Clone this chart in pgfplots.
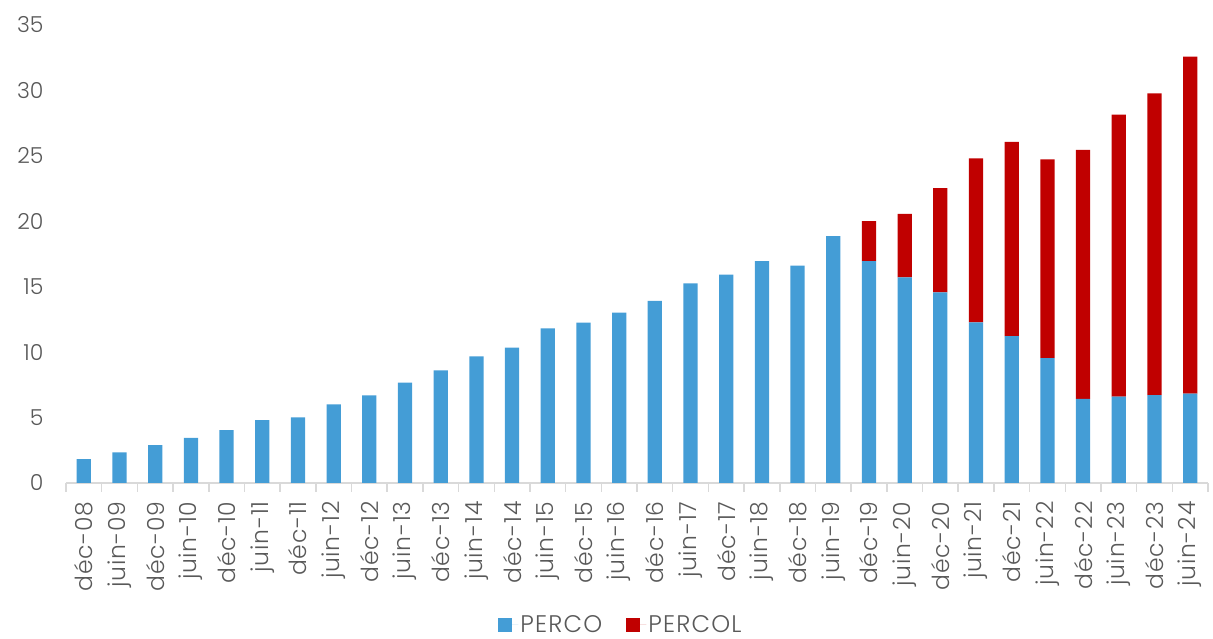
\documentclass[border=0pt]{standalone}
\usepackage{pgfplots}
\pgfplotsset{compat=1.18}
\usepackage{fontspec}
\setmainfont{Poppins}[UprightFont=* Light]
\definecolor{perco}{HTML}{449DD6}
\definecolor{percol}{HTML}{C00000}
\definecolor{txt}{HTML}{595959}
\definecolor{axl}{HTML}{D9D9D9}
\begin{document}
\begin{tikzpicture}[x=1pt,y=1pt]
\useasboundingbox (-66,-156) rectangle (1147,483);
\begin{axis}[
  at={(0,0)}, anchor=south west,
  scale only axis, width=1142pt, height=458pt,
  xmin=-0.5, xmax=31.5, ymin=0, ymax=35,
  ybar stacked, bar width=14.3pt,
  axis x line*=bottom, axis y line*=left,
  x axis line style={draw=axl, line width=1.5pt, -},
  y axis line style={draw=none},
  ytick={0,5,...,35},
  xtick={0,...,31},
  xticklabels={déc-08,juin-09,déc-09,juin-10,déc-10,juin-11,déc-11,juin-12,déc-12,juin-13,déc-13,juin-14,déc-14,juin-15,déc-15,juin-16,déc-16,juin-17,déc-17,juin-18,déc-18,juin-19,déc-19,juin-20,déc-20,juin-21,déc-21,juin-22,déc-22,juin-23,déc-23,juin-24},
  minor xtick={-0.5,0.5,...,31.5},
  major tick length=0pt,
  minor tick length=9pt,
  tick align=outside,
  ytick style={draw=none},
  major x tick style={draw=none},
  minor x tick style={draw=axl, line width=1.5pt},
  /pgf/number format/assume math mode=true,
  yticklabel style={font=\fontsize{22}{26}\selectfont, color=txt, xshift=-19pt},
  xticklabel style={yshift=-15pt, rotate=90, anchor=east, font=\fontsize{23.5}{26}\selectfont\addfontfeature{LetterSpace=3}, color=txt},
  legend style={at={(0.486,-0.309)}, anchor=center, legend columns=2, draw=none, fill=none,
    font=\fontsize{24}{26}\selectfont\addfontfeature{LetterSpace=5}, text=txt, inner sep=0pt,
    /tikz/every even column/.append style={column sep=22pt}},
  legend image code/.code={\fill[#1,draw=none] (0pt,-7pt) rectangle (14pt,7pt); \path (0pt,0pt) -- (20pt,0pt);},
]
\addplot[fill=perco, draw=none] coordinates {
(0,1.83) (1,2.34) (2,2.90) (3,3.44) (4,4.05) (5,4.81) (6,5.02) (7,6.01)
(8,6.70) (9,7.67) (10,8.61) (11,9.68) (12,10.34) (13,11.82) (14,12.25) (15,13.02)
(16,13.91) (17,15.26) (18,15.92) (19,16.96) (20,16.61) (21,18.87) (22,16.96) (23,15.72)
(24,14.57) (25,12.28) (26,11.23) (27,9.55) (28,6.42) (29,6.60) (30,6.72) (31,6.83)
};
\addlegendentry{PERCO}
\addplot[fill=percol, draw=none] coordinates {
(0,0) (1,0) (2,0) (3,0) (4,0) (5,0) (6,0) (7,0)
(8,0) (9,0) (10,0) (11,0) (12,0) (13,0) (14,0) (15,0)
(16,0) (17,0) (18,0) (19,0) (20,0) (21,0) (22,3.06) (23,4.84)
(24,7.97) (25,12.53) (26,14.83) (27,15.18) (28,19.03) (29,21.55) (30,23.06) (31,25.75)
};
\addlegendentry{PERCOL}
\end{axis}
\end{tikzpicture}
\end{document}
